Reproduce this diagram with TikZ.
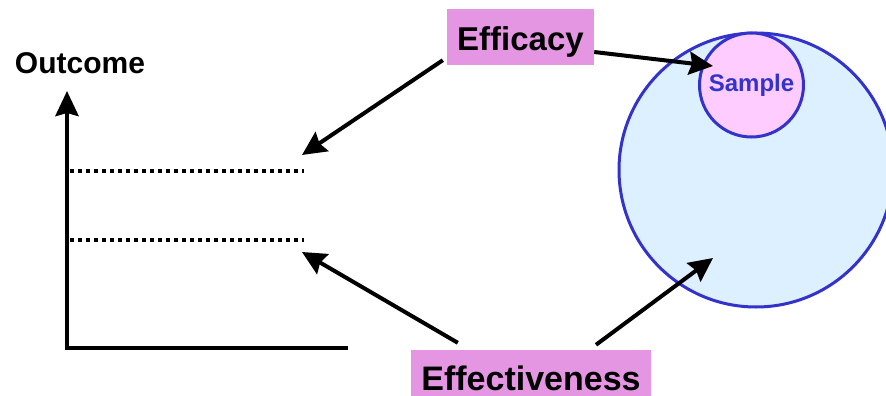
\documentclass[tikz,border=0pt]{standalone}
\usepackage{fontspec}
\setmainfont{Liberation Sans}
\usepackage{tikz}
\usetikzlibrary{arrows.meta,positioning}
\usetikzlibrary{calc}

\definecolor{boxpink}{RGB}{229,150,227}
\definecolor{popblue}{RGB}{221,240,255}
\definecolor{ringblue}{RGB}{51,51,204}
\definecolor{samplepink}{RGB}{255,204,255}

\begin{document}
\begin{tikzpicture}[
  x=1pt, y=-1pt,
  label/.style={fill=boxpink, inner sep=0pt, font=\bfseries\fontsize{33}{36}\selectfont},
  pop/.style={circle, draw=ringblue, line width=3pt, inner sep=0pt},
  arr/.style={-{Stealth[length=24pt,width=23pt,inset=3pt]}, line width=4pt},
  axis/.style={line width=4.5pt},
  level/.style={line width=4pt, dash pattern=on 4pt off 4pt}
]
  \useasboundingbox (0,0) rectangle (886,396);
  \clip (0,0) rectangle (886,396);

  \node[label, minimum width=147pt, text height=42pt, text depth=14pt] (efficacy) at (520.5,37) {Efficacy};
  \node[label, minimum width=240pt, text height=40pt, text depth=6pt, font=\bfseries\fontsize{34}{36}\selectfont] (effect) at (531,373) {Effectiveness};

  \node[pop, fill=popblue, minimum size=274pt] (population) at (756,170) {};
  \node[pop, fill=samplepink, minimum size=104pt, text=ringblue, font=\bfseries\fontsize{24}{26}\selectfont] (sample) at (751.5,85) {Sample};

  \node[font=\bfseries\fontsize{30}{32}\selectfont, inner sep=0pt] (outcome) at (80,63) {Outcome};

  % axes and levels
  \coordinate (origin) at (67,348);
  \coordinate (ytop) at (67,91);
  \coordinate (xend) at (348,348);
  \draw[axis, -{Stealth[length=25pt,width=23pt,inset=3pt]}] (origin) -- (ytop);
  \draw[axis] ([xshift=-2pt]origin) -- (xend);

  \coordinate (hi) at (70,171);
  \coordinate (hiend) at (304,171);
  \coordinate (lo) at (70,240);
  \coordinate (loend) at (304,240);
  \draw[level] (hi) -- (hiend);
  \draw[level] (lo) -- (loend);

  % arrows
  \coordinate (hitip) at (302,155);
  \coordinate (lotip) at (302,252);
  \coordinate (sampletip) at (713,66);
  \coordinate (poptip) at (713,258);

  \draw[arr] ([shift={(-4,-5)}]efficacy.south west) -- (hitip);
  \draw[arr] ([yshift=-15pt]efficacy.east) -- (sampletip);
  \draw[arr] ([shift={(47,-7)}]effect.north west) -- (lotip);
  \draw[arr] ([shift={(65,-5)}]effect.north) -- (poptip);
\end{tikzpicture}
\end{document}
